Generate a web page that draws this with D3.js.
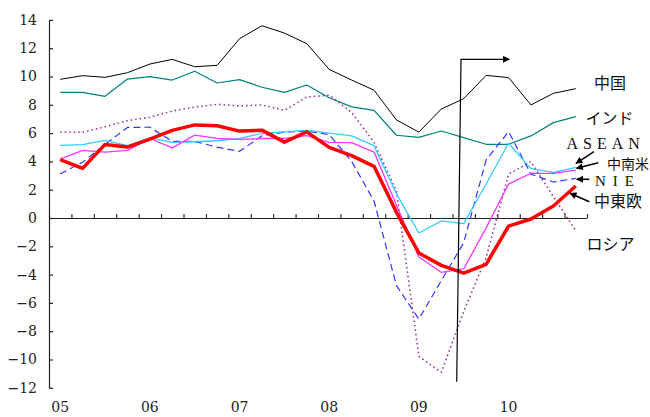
<!DOCTYPE html>
<html><head><meta charset="utf-8">
<script src="https://cdn.jsdelivr.net/npm/d3@7"></script>
<style>body{margin:0;background:#fff;overflow:hidden}</style>
</head><body><svg id="c" width="650" height="417"></svg>
<script>
// quarterly categories 2005Q1 .. 2010Q4
const quarters = ["05Q1","05Q2","05Q3","05Q4","06Q1","06Q2","06Q3","06Q4",
  "07Q1","07Q2","07Q3","07Q4","08Q1","08Q2","08Q3","08Q4",
  "09Q1","09Q2","09Q3","09Q4","10Q1","10Q2","10Q3","10Q4"];
const yearLabels = ["05","06","07","08","09","10"];
const yTicks = [-12,-10,-8,-6,-4,-2,0,2,4,6,8,10,12,14];

const china  = [9.80,10.06,9.94,10.27,10.88,11.21,10.69,10.79,12.67,13.59,13.07,12.32,10.50,9.75,9.03,6.93,6.07,7.70,8.43,10.08,9.92,7.99,8.81,9.14];
const india  = [8.88,8.88,8.60,9.82,9.99,9.75,10.37,9.54,9.78,9.24,8.88,9.40,8.50,7.85,7.60,5.85,5.70,6.15,5.68,5.21,5.21,5.80,6.74,7.16];
const russia = [6.06,6.06,6.45,6.88,7.12,7.56,7.84,8.03,7.92,7.99,7.61,8.55,8.68,7.47,5.35,1.90,-9.78,-10.90,-6.60,-2.80,3.10,3.98,1.51,-0.90];
const asean  = [5.13,5.18,5.48,5.11,5.67,5.34,5.39,5.46,5.62,5.98,6.09,6.19,6.00,5.80,5.11,1.70,-1.06,-0.21,-0.40,2.40,5.28,3.49,3.23,3.58];
const latam  = [4.16,4.78,4.66,4.78,5.62,4.96,5.86,5.62,5.55,5.62,5.62,5.82,5.35,5.32,4.66,0.90,-2.76,-3.84,-3.60,-0.70,2.40,3.16,3.16,3.39];
const nies   = [3.11,3.95,5.20,6.40,6.42,5.41,5.41,5.01,4.71,5.81,6.07,6.14,5.90,4.00,1.20,-4.78,-7.14,-4.43,-1.75,4.10,6.10,3.10,2.54,2.80];
const ceeur  = [4.12,3.51,5.20,5.01,5.58,6.19,6.58,6.52,6.14,6.21,5.36,6.09,4.99,4.41,3.65,0.40,-2.47,-3.35,-3.89,-3.27,-0.58,-0.07,0.85,2.26];

const svg = d3.select("#c");
const x = d3.scaleLinear().domain([-0.5, quarters.length - 0.5]).range([49, 587]);
const y = d3.scaleLinear().domain([-12, 14]).range([387.8, 19.9]);

const serif = "'DejaVu Serif','Liberation Serif',serif";
const serif2 = "'Liberation Serif','Times New Roman',serif";
const jp = "'Noto Sans CJK JP','Noto Sans',sans-serif";

// y axis
const gy = svg.append("g").attr("transform", "translate(49,0)")
  .call(d3.axisLeft(y).tickValues(yTicks).tickSize(-4).tickSizeOuter(0).tickPadding(12));
gy.attr("font-family", null);
gy.selectAll("text").style("font-family", serif).style("font-size", "14px").attr("fill", "#222");
gy.selectAll("line,path").attr("stroke", "#222").attr("stroke-width", 1.2);

// x axis at zero
const boundaries = d3.range(quarters.length + 1).map(i => i - 0.5);
const gx = svg.append("g").attr("transform", `translate(0,${y(0)})`)
  .call(d3.axisBottom(x).tickValues(boundaries).tickSize(-4).tickSizeOuter(0).tickFormat(""));
gx.selectAll("line,path").attr("stroke", "#222").attr("stroke-width", 1.1);

// year labels under the chart
svg.append("g").selectAll("text").data(yearLabels).join("text")
  .attr("x", (d, i) => x(i * 4)).attr("y", 408)
  .attr("text-anchor", "middle").attr("dominant-baseline", "middle")
  .style("font-family", serif).style("font-size", "14px").attr("fill", "#222")
  .text(d => d);

const line = d3.line().x((d, i) => x(i)).y(d => y(d));
const series = [
  {v: china,  c: "#000000", w: 1,   dash: null},
  {v: india,  c: "#008080", w: 1.2, dash: null},
  {v: russia, c: "#993399", w: 1.6, dash: "1.5 3"},
  {v: nies,   c: "#3333ff", w: 1.2, dash: "7 4"},
  {v: asean,  c: "#33ccff", w: 1.3, dash: null},
  {v: latam,  c: "#ff33ff", w: 1.3, dash: null},
  {v: ceeur,  c: "#ff0000", w: 3.5, dash: null}
];
svg.append("g").selectAll("path").data(series).join("path")
  .attr("d", d => line(d.v)).attr("fill", "none")
  .attr("stroke", d => d.c).attr("stroke-width", d => d.w)
  .attr("stroke-dasharray", d => d.dash).attr("stroke-linejoin", "round");

// arrow marker
svg.append("defs").append("marker").attr("id", "ah")
  .attr("viewBox", "0 0 10 10").attr("refX", 9).attr("refY", 5)
  .attr("markerWidth", 8).attr("markerHeight", 7).attr("markerUnits", "userSpaceOnUse")
  .attr("orient", "auto")
  .append("path").attr("d", "M0,0L10,5L0,10Z").attr("fill", "#000");

// forecast divider annotation
svg.append("path").attr("d", "M456.7,381.7L461,59.3L509.3,59.3")
  .attr("fill", "none").attr("stroke", "#000").attr("stroke-width", 1.2)
  .attr("marker-end", "url(#ah)");

// labels
const labels = [
  {t: "中国",   x: 594,   y: 82,    s: 16},
  {t: "インド", x: 585.5, y: 116.5, s: 16},
  {t: "中南米", x: 607,   y: 163,   s: 14},
  {t: "中東欧", x: 594,   y: 200,   s: 16},
  {t: "ロシア", x: 586.5, y: 242.5, s: 16}
];
svg.append("g").selectAll("text").data(labels).join("text")
  .attr("x", d => d.x).attr("y", d => d.y).attr("dominant-baseline", "central")
  .style("font-family", jp).style("font-size", d => d.s + "px").attr("fill", "#111")
  .text(d => d.t);
svg.append("text").attr("x", 566.5).attr("y", 149)
  .style("font-family", serif2).style("font-size", "16px").style("letter-spacing", "5px")
  .attr("fill", "#111").text("ASEAN");
svg.append("text").attr("x", 595).attr("y", 186)
  .style("font-family", serif2).style("font-size", "15px").style("letter-spacing", "7px")
  .attr("fill", "#111").text("NIE");

// label pointers
const pointers = [
  [594, 151.7, 576, 163.3],
  [598.3, 162.7, 576.5, 168.3],
  [589.3, 179.3, 576.7, 179.3],
  [589.3, 201.7, 570, 193.3]
];
svg.append("g").selectAll("line").data(pointers).join("line")
  .attr("x1", d => d[0]).attr("y1", d => d[1]).attr("x2", d => d[2]).attr("y2", d => d[3])
  .attr("stroke", "#000").attr("stroke-width", 1.6).attr("marker-end", "url(#ah)");
</script></body></html>
